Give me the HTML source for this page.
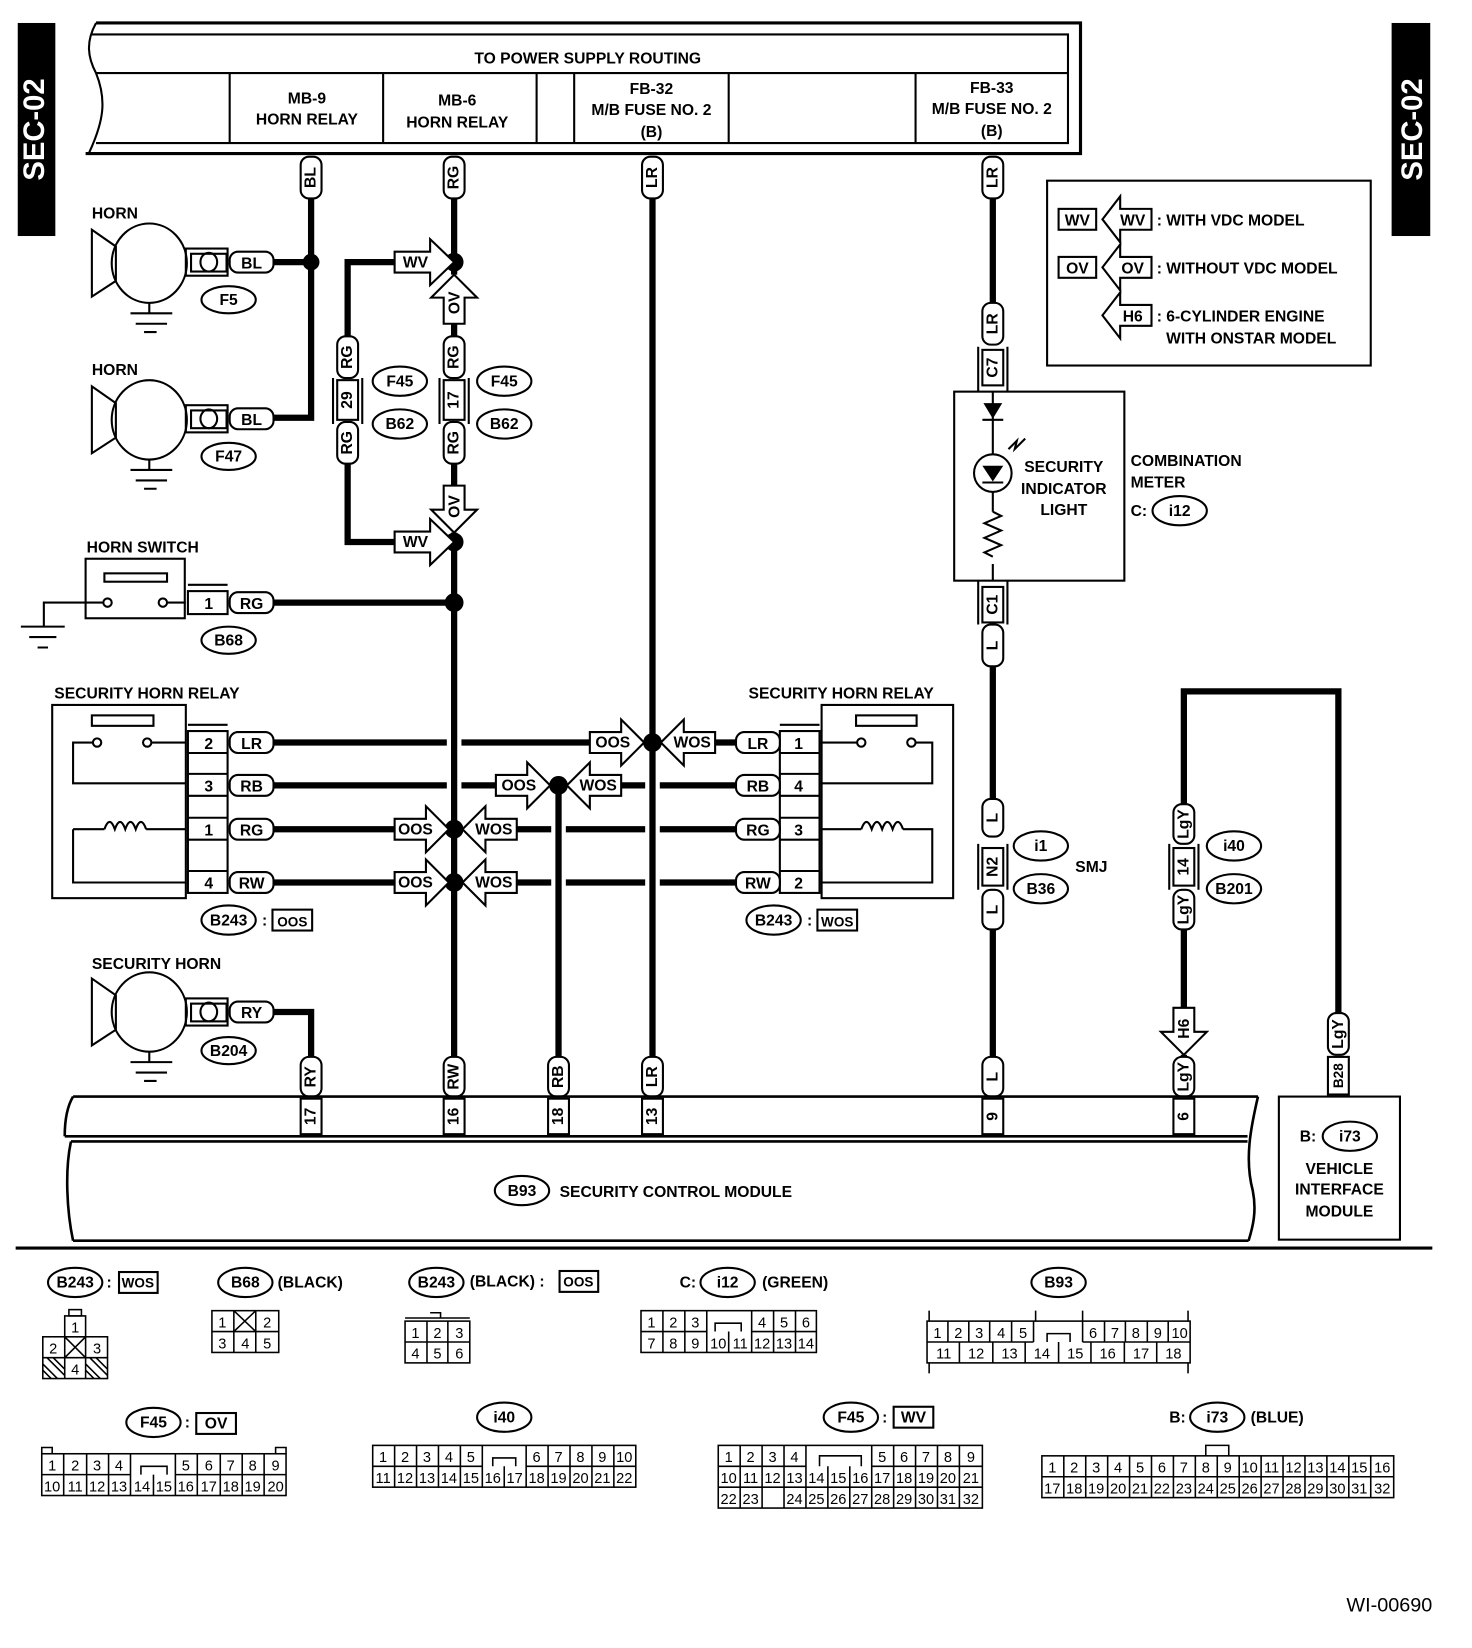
<!DOCTYPE html>
<html><head><meta charset="utf-8"><style>
html,body{margin:0;padding:0;background:#fff}
svg{display:block}
text{font-family:"Liberation Sans",sans-serif;font-weight:bold;font-size:15px;fill:#000}
.s{font-size:14px;font-weight:normal}
.w{stroke:#000;stroke-width:6;fill:none}
.t{stroke:#000;stroke-width:2;fill:none}
.p{stroke:#000;stroke-width:2;fill:#fff}
</style></head><body>
<svg width="1472" height="1648" viewBox="0 0 1410 1578" preserveAspectRatio="none" xmlns="http://www.w3.org/2000/svg">
<rect x="17" y="22" width="36" height="204" fill="#000"/>
<text transform="translate(42,124) rotate(-90)" text-anchor="middle" style="fill:#fff;font-size:28px">SEC-02</text>
<rect x="1333" y="22" width="37" height="204" fill="#000"/>
<text transform="translate(1362,124) rotate(-90)" text-anchor="middle" style="fill:#fff;font-size:28px">SEC-02</text>

<path class="t" d="M92,22 L1035,22 L1035,147 L82,147" style="stroke-width:3"/>
<path class="t" d="M92,22 C82,40 84,55 92,70 C102,95 100,115 85,147"/>
<path class="t" d="M88,33 L1023,33 L1023,137 L92,137 M92,70 L1023,70 M220,70V137 M367,70V137 M514,70V137 M550,70V137 M698,70V137 M877,70V137"/>
<text x="563" y="61" text-anchor="middle">TO POWER SUPPLY ROUTING</text>
<text x="294" y="99" text-anchor="middle">MB-9</text><text x="294" y="119" text-anchor="middle">HORN RELAY</text>
<text x="438" y="101" text-anchor="middle">MB-6</text><text x="438" y="122" text-anchor="middle">HORN RELAY</text>
<text x="624" y="90" text-anchor="middle">FB-32</text><text x="624" y="110" text-anchor="middle">M/B FUSE NO. 2</text><text x="624" y="131" text-anchor="middle">(B)</text>
<text x="950" y="89" text-anchor="middle">FB-33</text><text x="950" y="109" text-anchor="middle">M/B FUSE NO. 2</text><text x="950" y="130" text-anchor="middle">(B)</text>

<path class="w" d="M298,190V400H262 M298,251H262 M435,190V263 M435,310V322 M435,444V465 M435,510V1012 M625,190V1012 M951,190V290 M951,638V765 M951,890V1012 M333,322V251H378 M333,444V519H378 M262,577H435"/>
<path class="w" d="M262,969H298V1020 M535,752V1012 M1134,1012V1010 M1134,965V890 M1134,770V662H1282V970"/>
<path class="w" d="M262,711H428 M442,711H565 M262,752H428 M442,752H478 M262,794H380 M262,845H380 M595,752H618 M632,752H705 M685,711H705 M495,794H528 M542,794H618 M632,794H705 M495,845H528 M542,845H618 M632,845H705"/>

<g fill="#000"><circle cx="298" cy="251" r="8"/><circle cx="435" cy="251" r="9"/><circle cx="435" cy="519" r="9"/><circle cx="435" cy="577" r="9"/><circle cx="435" cy="794" r="9"/><circle cx="435" cy="845" r="9"/><circle cx="535" cy="752" r="9"/><circle cx="625" cy="711" r="9"/></g>

<g class="p">
<rect x="288" y="150" width="20" height="40" rx="8"/><rect x="425" y="150" width="20" height="40" rx="8"/><rect x="615" y="150" width="20" height="40" rx="8"/><rect x="941" y="150" width="20" height="40" rx="8"/>
<rect x="323" y="322" width="20" height="40" rx="8"/><rect x="323" y="404" width="20" height="40" rx="8"/><rect x="425" y="322" width="20" height="40" rx="8"/><rect x="425" y="404" width="20" height="40" rx="8"/>
<rect x="941" y="290" width="20" height="40" rx="8"/><rect x="941" y="598" width="20" height="40" rx="8"/><rect x="941" y="765" width="20" height="36" rx="8"/><rect x="941" y="852" width="20" height="38" rx="8"/>
<rect x="1124" y="770" width="20" height="38" rx="8"/><rect x="1124" y="852" width="20" height="38" rx="8"/><rect x="1124" y="1012" width="20" height="38" rx="8"/><rect x="1272" y="970" width="20" height="40" rx="8"/>
<rect x="288" y="1012" width="20" height="38" rx="8"/><rect x="425" y="1012" width="20" height="38" rx="8"/><rect x="525" y="1012" width="20" height="38" rx="8"/><rect x="615" y="1012" width="20" height="38" rx="8"/><rect x="941" y="1012" width="20" height="38" rx="8"/>
</g>
<g text-anchor="middle" dominant-baseline="central">
<text transform="translate(298,170) rotate(-90)">BL</text><text transform="translate(435,170) rotate(-90)">RG</text><text transform="translate(625,170) rotate(-90)">LR</text><text transform="translate(951,170) rotate(-90)">LR</text>
<text transform="translate(333,342) rotate(-90)">RG</text><text transform="translate(333,424) rotate(-90)">RG</text><text transform="translate(435,342) rotate(-90)">RG</text><text transform="translate(435,424) rotate(-90)">RG</text>
<text transform="translate(951,310) rotate(-90)">LR</text><text transform="translate(951,618) rotate(-90)">L</text><text transform="translate(951,783) rotate(-90)">L</text><text transform="translate(951,871) rotate(-90)">L</text>
<text transform="translate(1134,789) rotate(-90)">LgY</text><text transform="translate(1134,871) rotate(-90)">LgY</text><text transform="translate(1134,1031) rotate(-90)">LgY</text><text transform="translate(1282,990) rotate(-90)">LgY</text>
<text transform="translate(298,1031) rotate(-90)">RY</text><text transform="translate(435,1031) rotate(-90)">RW</text><text transform="translate(535,1031) rotate(-90)">RB</text><text transform="translate(625,1031) rotate(-90)">LR</text><text transform="translate(951,1031) rotate(-90)">L</text>
</g>

<g class="t">
<rect x="323" y="364" width="20" height="38"/><path d="M319,362V406 M347,362V406"/>
<rect x="425" y="364" width="20" height="38"/><path d="M421,362V406 M449,362V406"/>
<rect x="941" y="335" width="20" height="34"/><path d="M937,332V375 M965,332V375"/>
<rect x="941" y="562" width="20" height="34"/><path d="M937,556V598 M965,556V598"/>
<rect x="941" y="812" width="20" height="36"/><path d="M937,808V852 M965,808V852"/>
<rect x="1124" y="812" width="20" height="36"/><path d="M1120,808V852 M1148,808V852"/>
<rect x="1272" y="1012" width="20" height="36" style="fill:#fff"/>
</g>
<g text-anchor="middle" dominant-baseline="central">
<text transform="translate(333,383) rotate(-90)">29</text><text transform="translate(435,383) rotate(-90)">17</text>
<text transform="translate(951,352) rotate(-90)">C7</text><text transform="translate(951,579) rotate(-90)">C1</text>
<text transform="translate(951,830) rotate(-90)">N2</text><text transform="translate(1134,830) rotate(-90)">14</text>
<text transform="translate(1282,1030) rotate(-90)" style="font-size:13px">B28</text>
</g>

<g class="p">
<polygon points="378,241 412,241 412,229 435,251 412,273 412,261 378,261"/>
<polygon points="378,509 412,509 412,497 435,519 412,541 412,529 378,529"/>
<polygon points="425,310 425,285 413,285 435,263 457,285 445,285 445,310"/>
<polygon points="425,465 425,488 413,488 435,510 457,488 445,488 445,465"/>
<polygon points="565,701 595,701 595,689 617,711 595,733 595,721 565,721"/>
<polygon points="685,701 655,701 655,689 633,711 655,733 655,721 685,721"/>
<polygon points="475,742 505,742 505,730 527,752 505,774 505,762 475,762"/>
<polygon points="595,742 565,742 565,730 543,752 565,774 565,762 595,762"/>
<polygon points="378,784 408,784 408,772 430,794 408,816 408,804 378,804"/>
<polygon points="495,784 465,784 465,772 443,794 465,816 465,804 495,804"/>
<polygon points="378,835 408,835 408,823 430,845 408,867 408,855 378,855"/>
<polygon points="495,835 465,835 465,823 443,845 465,867 465,855 495,855"/>
<polygon points="1124,965 1124,988 1112,988 1134,1010 1156,988 1144,988 1144,965"/>
</g>
<g text-anchor="middle" style="font-size:13px">
<text x="398" y="256">WV</text><text x="398" y="524">WV</text>
<text transform="translate(440,290) rotate(-90)">OV</text><text transform="translate(440,485) rotate(-90)">OV</text>
<text x="587" y="716">OOS</text><text x="663" y="716">WOS</text>
<text x="497" y="757">OOS</text><text x="573" y="757">WOS</text>
<text x="398" y="799">OOS</text><text x="473" y="799">WOS</text>
<text x="398" y="850">OOS</text><text x="473" y="850">WOS</text>
<text transform="translate(1139,985) rotate(-90)">H6</text>
</g>

<g class="t">
<polygon points="88,220 111,236 111,269 88,284"/><ellipse cx="143" cy="252" rx="36" ry="38"/>
<path d="M143,290V300 M125,300H165 M130,310H160 M138,318H150"/>
<rect x="178" y="238" width="40" height="26"/><rect x="183" y="243" width="34" height="17"/><ellipse cx="200" cy="251" rx="8" ry="9"/>
<polygon points="88,370 111,386 111,419 88,434"/><ellipse cx="143" cy="402" rx="36" ry="38"/>
<path d="M143,440V450 M125,450H165 M130,460H160 M138,468H150"/>
<rect x="178" y="388" width="40" height="26"/><rect x="183" y="393" width="34" height="17"/><ellipse cx="200" cy="401" rx="8" ry="9"/>
<polygon points="88,937 111,953 111,986 88,1001"/><ellipse cx="143" cy="969" rx="36" ry="38"/>
<path d="M143,1007V1017 M125,1017H165 M130,1027H160 M138,1035H150"/>
<rect x="178" y="956" width="40" height="26"/><rect x="183" y="961" width="34" height="17"/><ellipse cx="200" cy="969" rx="8" ry="9"/>
</g>
<g class="p">
<rect x="220" y="241" width="42" height="20" rx="8"/><rect x="220" y="391" width="42" height="20" rx="8"/><rect x="220" y="959" width="42" height="20" rx="8"/><rect x="220" y="567" width="42" height="20" rx="8"/>
</g>
<text x="241" y="257" text-anchor="middle">BL</text><text x="241" y="407" text-anchor="middle">BL</text><text x="241" y="975" text-anchor="middle">RY</text><text x="241" y="583" text-anchor="middle">RG</text>
<text x="88" y="209">HORN</text><text x="88" y="359">HORN</text><text x="83" y="529">HORN SWITCH</text><text x="88" y="928">SECURITY HORN</text>

<g class="t">
<rect x="82" y="535" width="95" height="57"/><rect x="100" y="549" width="60" height="8"/>
<circle cx="103" cy="577" r="4" fill="#fff"/><circle cx="156" cy="577" r="4" fill="#fff"/>
<path d="M99,577H42V600 M20,600H62 M28,610H54 M36,620H46 M160,577H178"/>
<rect x="180" y="566" width="38" height="22"/><path d="M180,560H218"/>
</g>
<text x="200" y="583" text-anchor="middle">1</text>

<g class="t" style="fill:#fff">
<ellipse cx="219" cy="287" rx="26" ry="13"/><ellipse cx="219" cy="437" rx="26" ry="13"/><ellipse cx="219" cy="613" rx="26" ry="13"/><ellipse cx="219" cy="1006" rx="26" ry="13"/>
<ellipse cx="383" cy="365" rx="26" ry="14"/><ellipse cx="383" cy="406" rx="26" ry="14"/><ellipse cx="483" cy="365" rx="26" ry="14"/><ellipse cx="483" cy="406" rx="26" ry="14"/>
<ellipse cx="219" cy="881" rx="26" ry="14"/><ellipse cx="741" cy="881" rx="26" ry="14"/>
<ellipse cx="997" cy="810" rx="26" ry="14"/><ellipse cx="997" cy="851" rx="26" ry="14"/><ellipse cx="1182" cy="810" rx="26" ry="14"/><ellipse cx="1182" cy="851" rx="26" ry="14"/>
<ellipse cx="1130" cy="489" rx="26" ry="14"/><ellipse cx="1293" cy="1088" rx="26" ry="14"/><ellipse cx="500" cy="1140" rx="26" ry="14"/>
</g>
<g text-anchor="middle">
<text x="219" y="292">F5</text><text x="219" y="442">F47</text><text x="219" y="618">B68</text><text x="219" y="1011">B204</text>
<text x="383" y="370">F45</text><text x="383" y="411">B62</text><text x="483" y="370">F45</text><text x="483" y="411">B62</text>
<text x="219" y="886">B243</text><text x="741" y="886">B243</text>
<text x="997" y="815">i1</text><text x="997" y="856">B36</text><text x="1182" y="815">i40</text><text x="1182" y="856">B201</text>
<text x="1130" y="494">i12</text><text x="1293" y="1093">i73</text><text x="500" y="1145">B93</text>
</g>
<text x="1030" y="835">SMJ</text>
<text x="251" y="886">:</text><rect x="261" y="871" width="38" height="20" class="t"/><text x="280" y="887" text-anchor="middle" style="font-size:13px">OOS</text>
<text x="773" y="886">:</text><rect x="783" y="871" width="38" height="20" class="t"/><text x="802" y="887" text-anchor="middle" style="font-size:13px">WOS</text>

<text x="52" y="669">SECURITY HORN RELAY</text><text x="717" y="669">SECURITY HORN RELAY</text>
<g class="t">
<rect x="50" y="675" width="128" height="185"/><rect x="88" y="685" width="59" height="10"/>
<circle cx="93" cy="711" r="4" fill="#fff"/><circle cx="141" cy="711" r="4" fill="#fff"/>
<path d="M89,711H70V750H178 M145,711H178 M70,794H100 M140,794H178 M70,794V845H178"/>
<path d="M100,794 q5,-14 10,0 q5,-14 10,0 q5,-14 10,0 q5,-14 10,0" />
<rect x="180" y="700" width="38" height="155"/><path d="M180,721H218 M180,741H218 M180,762H218 M180,783H218 M180,804H218 M180,834H218 M180,694H218"/>
<rect x="787" y="675" width="126" height="185"/><rect x="820" y="685" width="58" height="10"/>
<circle cx="825" cy="711" r="4" fill="#fff"/><circle cx="873" cy="711" r="4" fill="#fff"/>
<path d="M785,711H821 M877,711H893V750H785 M785,794H825 M865,794H893V845H785"/>
<path d="M825,794 q5,-14 10,0 q5,-14 10,0 q5,-14 10,0 q5,-14 10,0"/>
<rect x="747" y="700" width="38" height="155"/><path d="M747,721H785 M747,741H785 M747,762H785 M747,783H785 M747,804H785 M747,834H785 M747,694H785"/>
</g>
<g class="p">
<rect x="220" y="701" width="42" height="20" rx="8"/><rect x="220" y="742" width="42" height="20" rx="8"/><rect x="220" y="784" width="42" height="20" rx="8"/><rect x="220" y="835" width="42" height="20" rx="8"/>
<rect x="705" y="701" width="42" height="20" rx="8"/><rect x="705" y="742" width="42" height="20" rx="8"/><rect x="705" y="784" width="42" height="20" rx="8"/><rect x="705" y="835" width="42" height="20" rx="8"/>
</g>
<g text-anchor="middle">
<text x="200" y="717">2</text><text x="200" y="758">3</text><text x="200" y="800">1</text><text x="200" y="851">4</text>
<text x="241" y="717">LR</text><text x="241" y="758">RB</text><text x="241" y="800">RG</text><text x="241" y="851">RW</text>
<text x="765" y="717">1</text><text x="765" y="758">4</text><text x="765" y="800">3</text><text x="765" y="851">2</text>
<text x="726" y="717">LR</text><text x="726" y="758">RB</text><text x="726" y="800">RG</text><text x="726" y="851">RW</text>
</g>

<g class="t">
<rect x="914" y="375" width="163" height="181"/>
<path d="M951,375V435 M951,471V490 M951,540V556 M941,402H961 M951,490 l8,4 -16,7 16,7 -16,7 16,7 -16,7 8,4"/>
<circle cx="951" cy="453" r="18"/><path d="M941,462H961 M966,430 l8,-8 -2,8 10,-10"/>
</g>
<polygon points="942,386 960,386 951,401" fill="#000"/><polygon points="941,446 961,446 951,461" fill="#000"/>
<g text-anchor="middle"><text x="1019" y="452">SECURITY</text><text x="1019" y="473">INDICATOR</text><text x="1019" y="493">LIGHT</text></g>
<text x="1083" y="446">COMBINATION</text><text x="1083" y="467">METER</text><text x="1083" y="494">C:</text>

<rect x="1003" y="173" width="310" height="177" class="t"/>
<rect x="1014" y="200" width="36" height="20" class="t"/><text x="1032" y="216" text-anchor="middle">WV</text>
<rect x="1014" y="246" width="36" height="20" class="t"/><text x="1032" y="262" text-anchor="middle">OV</text>
<g class="t"><polygon points="1103,200 1073,200 1073,188 1056,210 1073,232 1073,220 1103,220"/><polygon points="1103,246 1073,246 1073,234 1056,256 1073,278 1073,266 1103,266"/><polygon points="1103,292 1073,292 1073,280 1056,302 1073,324 1073,312 1103,312"/></g>
<g text-anchor="middle"><text x="1085" y="216">WV</text><text x="1085" y="262">OV</text><text x="1085" y="308">H6</text></g>
<text x="1108" y="216">: WITH VDC MODEL</text><text x="1108" y="262">: WITHOUT VDC MODEL</text><text x="1108" y="308">: 6-CYLINDER ENGINE</text><text x="1117" y="329">WITH ONSTAR MODEL</text>

<g class="t" style="stroke-width:2.5">
<path d="M70,1050H1205 M62,1088H1195 M68,1093H1195 M70,1188H1196 M70,1050 C64,1060 62,1075 62,1088 M68,1093 C62,1120 64,1160 70,1188 M1205,1050 C1198,1080 1192,1110 1200,1140 C1204,1160 1200,1175 1196,1188"/>
</g>
<g class="p">
<rect x="288" y="1052" width="20" height="34"/><rect x="425" y="1052" width="20" height="34"/><rect x="525" y="1052" width="20" height="34"/><rect x="615" y="1052" width="20" height="34"/><rect x="941" y="1052" width="20" height="34"/><rect x="1124" y="1052" width="20" height="34"/>
</g>
<g text-anchor="middle" dominant-baseline="central">
<text transform="translate(298,1069) rotate(-90)">17</text><text transform="translate(435,1069) rotate(-90)">16</text><text transform="translate(535,1069) rotate(-90)">18</text><text transform="translate(625,1069) rotate(-90)">13</text><text transform="translate(951,1069) rotate(-90)">9</text><text transform="translate(1134,1069) rotate(-90)">6</text>
</g>
<text x="536" y="1146">SECURITY CONTROL MODULE</text>
<rect x="1225" y="1050" width="116" height="137" class="t"/>
<text x="1245" y="1093">B:</text>
<g text-anchor="middle"><text x="1283" y="1124">VEHICLE</text><text x="1283" y="1144">INTERFACE</text><text x="1283" y="1165">MODULE</text></g>
<path d="M15,1195H1372" stroke="#000" stroke-width="3"/>

<g class="t" style="fill:#fff">
<ellipse cx="72" cy="1228" rx="26" ry="14"/><ellipse cx="235" cy="1228" rx="26" ry="14"/><ellipse cx="418" cy="1228" rx="26" ry="14"/><ellipse cx="697" cy="1228" rx="26" ry="14"/><ellipse cx="1014" cy="1228" rx="26" ry="14"/>
<ellipse cx="147" cy="1362" rx="26" ry="14"/><ellipse cx="483" cy="1357" rx="26" ry="14"/><ellipse cx="815" cy="1357" rx="26" ry="14"/><ellipse cx="1166" cy="1357" rx="26" ry="14"/>
<rect x="114" y="1218" width="37" height="20"/><rect x="536" y="1217" width="37" height="20"/><rect x="188" y="1353" width="38" height="20"/><rect x="856" y="1347" width="38" height="20"/>
</g>
<g text-anchor="middle">
<text x="72" y="1233">B243</text><text x="235" y="1233">B68</text><text x="418" y="1233">B243</text><text x="697" y="1233">i12</text><text x="1014" y="1233">B93</text>
<text x="147" y="1367">F45</text><text x="483" y="1362">i40</text><text x="815" y="1362">F45</text><text x="1166" y="1362">i73</text>
<text x="132" y="1233" style="font-size:13px">WOS</text><text x="554" y="1232" style="font-size:13px">OOS</text><text x="207" y="1368">OV</text><text x="875" y="1362">WV</text>
</g>
<text x="102" y="1233">:</text><text x="266" y="1233">(BLACK)</text><text x="450" y="1232">(BLACK) :</text><text x="651" y="1233">C:</text><text x="730" y="1233">(GREEN)</text>
<text x="177" y="1367">:</text><text x="845" y="1362">:</text><text x="1120" y="1362">B:</text><text x="1198" y="1362">(BLUE)</text>

<g class="t" style="stroke-width:1.5">
<rect x="62" y="1260" width="20" height="20"/><rect x="66" y="1254" width="12" height="6"/>
<rect x="41" y="1280" width="62" height="40"/><path d="M41,1300H103 M62,1280V1320 M82,1280V1320 M62,1280L82,1300 M82,1280L62,1300 M41,1306L55,1320 M41,1312L49,1320 M45,1300L62,1317 M51,1300L62,1311 M82,1306L96,1320 M82,1312L90,1320 M86,1300L103,1317 M92,1300L103,1311"/>
<rect x="203" y="1255" width="64" height="40"/><path d="M203,1275H267 M224,1255V1295 M245,1255V1295 M224,1255L245,1275 M245,1255L224,1275"/>
<rect x="388" y="1265" width="62" height="40"/><path d="M388,1262H450 M412,1257h10v5 M388,1285H450 M409,1265V1305 M429,1265V1305"/>
<rect x="614" y="1255" width="168" height="40"/><path d="M614,1275H677 M720,1275H782 M635,1255V1295 M656,1255V1295 M677,1255V1295 M698,1275V1295 M720,1255V1295 M741,1255V1295 M762,1255V1295 M685,1275v-8h25v8" fill="none"/>
<rect x="888" y="1265" width="252" height="40"/><path d="M888,1285H990 M1037,1285H1140 M908,1265V1285 M928,1265V1285 M948,1265V1285 M969,1265V1285 M990,1265V1285 M1037,1265V1285 M1058,1265V1285 M1078,1265V1285 M1099,1265V1285 M1119,1265V1285 M919,1285V1305 M951,1285V1305 M982,1285V1305 M1014,1285V1305 M1045,1285V1305 M1077,1285V1305 M1108,1285V1305 M1003,1285v-8h22v8 M890,1255v10 M992,1255v10 M1037,1255v10 M1138,1255v10 M890,1305v10 M1138,1305v10"/>
<rect x="40" y="1392" width="234" height="40"/><path d="M40,1412H125 M168,1412H274 M61,1392V1432 M83,1392V1432 M104,1392V1432 M125,1392V1432 M147,1412V1432 M168,1392V1432 M189,1392V1432 M211,1392V1432 M232,1392V1432 M253,1392V1432 M135,1412v-8h25v8 M40,1392v-6h10v6 M264,1392v-6h10v6"/>
<rect x="357" y="1384" width="252" height="40"/><path d="M357,1404H462 M504,1404H609 M378,1384V1424 M399,1384V1424 M420,1384V1424 M441,1384V1424 M462,1384V1424 M483,1404V1424 M504,1384V1424 M525,1384V1424 M546,1384V1424 M567,1384V1424 M588,1384V1424 M472,1404v-8h22v8"/>
<rect x="688" y="1384" width="253" height="60"/><path d="M688,1404H772 M835,1404H941 M688,1424H941 M709,1384V1444 M730,1384V1444 M751,1384V1444 M772,1384V1444 M793,1404V1444 M814,1404V1444 M835,1384V1444 M856,1384V1444 M877,1384V1444 M898,1384V1444 M919,1384V1444 M785,1404v-10h40v10"/>
<rect x="998" y="1394" width="337" height="40"/><path d="M998,1414H1335 M1019,1394V1434 M1040,1394V1434 M1061,1394V1434 M1082,1394V1434 M1103,1394V1434 M1124,1394V1434 M1145,1394V1434 M1166,1394V1434 M1187,1394V1434 M1208,1394V1434 M1229,1394V1434 M1250,1394V1434 M1271,1394V1434 M1292,1394V1434 M1313,1394V1434 M1155,1394v-10h22v10"/>
</g>
<g class="s" text-anchor="middle" style="font-size:14px">
<text class="s" x="72" y="1276">1</text><text class="s" x="51" y="1296">2</text><text class="s" x="93" y="1296">3</text><text class="s" x="72" y="1316">4</text>
<text class="s" x="213" y="1271">1</text><text class="s" x="256" y="1271">2</text><text class="s" x="213" y="1291">3</text><text class="s" x="235" y="1291">4</text><text class="s" x="256" y="1291">5</text>
<text class="s" x="398" y="1281">1</text><text class="s" x="419" y="1281">2</text><text class="s" x="440" y="1281">3</text><text class="s" x="398" y="1301">4</text><text class="s" x="419" y="1301">5</text><text class="s" x="440" y="1301">6</text>
<text class="s" x="624" y="1271">1</text><text class="s" x="645" y="1271">2</text><text class="s" x="666" y="1271">3</text><text class="s" x="730" y="1271">4</text><text class="s" x="751" y="1271">5</text><text class="s" x="772" y="1271">6</text>
<text class="s" x="624" y="1291">7</text><text class="s" x="645" y="1291">8</text><text class="s" x="666" y="1291">9</text><text class="s" x="688" y="1291">10</text><text class="s" x="709" y="1291">11</text><text class="s" x="730" y="1291">12</text><text class="s" x="751" y="1291">13</text><text class="s" x="772" y="1291">14</text>
<text class="s" x="898" y="1281">1</text><text class="s" x="918" y="1281">2</text><text class="s" x="938" y="1281">3</text><text class="s" x="959" y="1281">4</text><text class="s" x="980" y="1281">5</text><text class="s" x="1047" y="1281">6</text><text class="s" x="1068" y="1281">7</text><text class="s" x="1088" y="1281">8</text><text class="s" x="1109" y="1281">9</text><text class="s" x="1130" y="1281">10</text>
<text class="s" x="904" y="1301">11</text><text class="s" x="935" y="1301">12</text><text class="s" x="967" y="1301">13</text><text class="s" x="998" y="1301">14</text><text class="s" x="1030" y="1301">15</text><text class="s" x="1061" y="1301">16</text><text class="s" x="1093" y="1301">17</text><text class="s" x="1124" y="1301">18</text>
<text class="s" x="50" y="1408">1</text><text class="s" x="72" y="1408">2</text><text class="s" x="93" y="1408">3</text><text class="s" x="114" y="1408">4</text><text class="s" x="178" y="1408">5</text><text class="s" x="200" y="1408">6</text><text class="s" x="221" y="1408">7</text><text class="s" x="242" y="1408">8</text><text class="s" x="264" y="1408">9</text>
<text class="s" x="50" y="1428">10</text><text class="s" x="72" y="1428">11</text><text class="s" x="93" y="1428">12</text><text class="s" x="114" y="1428">13</text><text class="s" x="136" y="1428">14</text><text class="s" x="157" y="1428">15</text><text class="s" x="178" y="1428">16</text><text class="s" x="200" y="1428">17</text><text class="s" x="221" y="1428">18</text><text class="s" x="242" y="1428">19</text><text class="s" x="264" y="1428">20</text>
<text class="s" x="367" y="1400">1</text><text class="s" x="388" y="1400">2</text><text class="s" x="409" y="1400">3</text><text class="s" x="430" y="1400">4</text><text class="s" x="451" y="1400">5</text><text class="s" x="514" y="1400">6</text><text class="s" x="535" y="1400">7</text><text class="s" x="556" y="1400">8</text><text class="s" x="577" y="1400">9</text><text class="s" x="598" y="1400">10</text>
<text class="s" x="367" y="1420">11</text><text class="s" x="388" y="1420">12</text><text class="s" x="409" y="1420">13</text><text class="s" x="430" y="1420">14</text><text class="s" x="451" y="1420">15</text><text class="s" x="472" y="1420">16</text><text class="s" x="493" y="1420">17</text><text class="s" x="514" y="1420">18</text><text class="s" x="535" y="1420">19</text><text class="s" x="556" y="1420">20</text><text class="s" x="577" y="1420">21</text><text class="s" x="598" y="1420">22</text>
<text class="s" x="698" y="1400">1</text><text class="s" x="719" y="1400">2</text><text class="s" x="740" y="1400">3</text><text class="s" x="761" y="1400">4</text><text class="s" x="845" y="1400">5</text><text class="s" x="866" y="1400">6</text><text class="s" x="887" y="1400">7</text><text class="s" x="908" y="1400">8</text><text class="s" x="930" y="1400">9</text>
<text class="s" x="698" y="1420">10</text><text class="s" x="719" y="1420">11</text><text class="s" x="740" y="1420">12</text><text class="s" x="761" y="1420">13</text><text class="s" x="782" y="1420">14</text><text class="s" x="803" y="1420">15</text><text class="s" x="824" y="1420">16</text><text class="s" x="845" y="1420">17</text><text class="s" x="866" y="1420">18</text><text class="s" x="887" y="1420">19</text><text class="s" x="908" y="1420">20</text><text class="s" x="930" y="1420">21</text>
<text class="s" x="698" y="1440">22</text><text class="s" x="719" y="1440">23</text><text class="s" x="761" y="1440">24</text><text class="s" x="782" y="1440">25</text><text class="s" x="803" y="1440">26</text><text class="s" x="824" y="1440">27</text><text class="s" x="845" y="1440">28</text><text class="s" x="866" y="1440">29</text><text class="s" x="887" y="1440">30</text><text class="s" x="908" y="1440">31</text><text class="s" x="930" y="1440">32</text>
<text class="s" x="1008" y="1410">1</text><text class="s" x="1029" y="1410">2</text><text class="s" x="1050" y="1410">3</text><text class="s" x="1071" y="1410">4</text><text class="s" x="1092" y="1410">5</text><text class="s" x="1113" y="1410">6</text><text class="s" x="1134" y="1410">7</text><text class="s" x="1155" y="1410">8</text><text class="s" x="1176" y="1410">9</text><text class="s" x="1197" y="1410">10</text><text class="s" x="1218" y="1410">11</text><text class="s" x="1239" y="1410">12</text><text class="s" x="1260" y="1410">13</text><text class="s" x="1281" y="1410">14</text><text class="s" x="1302" y="1410">15</text><text class="s" x="1324" y="1410">16</text>
<text class="s" x="1008" y="1430">17</text><text class="s" x="1029" y="1430">18</text><text class="s" x="1050" y="1430">19</text><text class="s" x="1071" y="1430">20</text><text class="s" x="1092" y="1430">21</text><text class="s" x="1113" y="1430">22</text><text class="s" x="1134" y="1430">23</text><text class="s" x="1155" y="1430">24</text><text class="s" x="1176" y="1430">25</text><text class="s" x="1197" y="1430">26</text><text class="s" x="1218" y="1430">27</text><text class="s" x="1239" y="1430">28</text><text class="s" x="1260" y="1430">29</text><text class="s" x="1281" y="1430">30</text><text class="s" x="1302" y="1430">31</text><text class="s" x="1324" y="1430">32</text>
</g>
<text x="1372" y="1543" text-anchor="end" style="font-weight:normal;font-size:19px">WI-00690</text>
</svg>
</body></html>
